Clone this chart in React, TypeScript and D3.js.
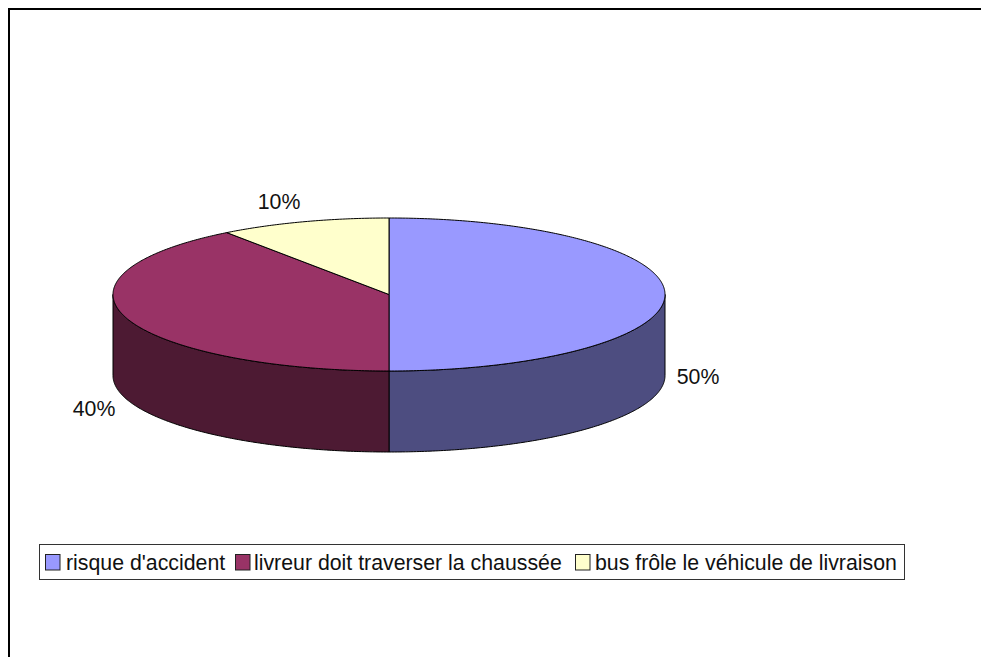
import React from "react";
import * as d3 from "d3";

const categories = ["risque d'accident", "livreur doit traverser la chaussée", "bus frôle le véhicule de livraison"];
const shares = [50, 40, 10];
const topColors = ["#9999FF", "#993366", "#FFFFCC"];
const wallColors = ["#4D4D80", "#4D1A33", "#80804D"];
const labelAnchors = [
  { x: 698, y: 384 },
  { x: 94, y: 416 },
  { x: 279, y: 209 },
];
const legendSwatchX = [45, 235, 575];
const legendTextX = [66, 254, 595];

const W = 981;
const H = 657;
const cx = 389;
const cy = 294.5;
const rx = 276;
const ry = 76.5;
const depth = 81;
const font = "'Liberation Sans', Arial, sans-serif";
const fontSize = 21.3;

const px = d3.scaleLinear().domain([-1, 1]).range([cx - rx, cx + rx]);
const py = d3.scaleLinear().domain([-1, 1]).range([cy - ry, cy + ry]);
const line = d3.line<[number, number]>();

// Points along the rim between two angles, measured clockwise from twelve o'clock.
function rim(a0: number, a1: number, drop = 0): [number, number][] {
  const n = Math.max(2, Math.ceil(Math.abs(a1 - a0) / 0.01));
  return d3.range(n + 1).map((i) => {
    const a = a0 + ((a1 - a0) * i) / n;
    return [px(Math.sin(a)), py(-Math.cos(a)) + drop] as [number, number];
  });
}

function topPath(a0: number, a1: number) {
  return line([[cx, cy], ...rim(a0, a1)])! + "Z";
}

// Only the front half of the cylinder (angles from π/2 to 3π/2) shows a wall.
function wallPath(a0: number, a1: number) {
  const lo = Math.max(a0, Math.PI / 2);
  const hi = Math.min(a1, (3 * Math.PI) / 2);
  if (hi <= lo) return null;
  return line([...rim(lo, hi), ...rim(hi, lo, depth)])! + "Z";
}

export default function App() {
  const arcs = d3.pie<number>().sort(null)(shares);
  const stroke = { stroke: "#000", strokeWidth: 1, strokeLinejoin: "round" as const };
  return (
    <svg width={W} height={H} viewBox={`0 0 ${W} ${H}`} style={{ position: "absolute", left: 0, top: 0, background: "#fff" }}>
      <path d={`M9,${H}V9H${W}`} fill="none" stroke="#000" strokeWidth={2} />
      {arcs.map((a, i) => {
        const d = wallPath(a.startAngle, a.endAngle);
        return d ? <path key={i} d={d} fill={wallColors[i]} {...stroke} /> : null;
      })}
      {arcs.map((a, i) => (
        <path key={i} d={topPath(a.startAngle, a.endAngle)} fill={topColors[i]} {...stroke} />
      ))}
      {shares.map((s, i) => (
        <text key={i} x={labelAnchors[i].x} y={labelAnchors[i].y} textAnchor="middle" fontFamily={font} fontSize={fontSize} fill="#111">
          {s}%
        </text>
      ))}
      <rect x={39.5} y={544.5} width={865} height={35} fill="#fff" stroke="#333" strokeWidth={1} />
      {categories.map((c, i) => (
        <g key={c}>
          <rect x={legendSwatchX[i] + 0.5} y={554.5} width={14.5} height={15.5} fill={topColors[i]} stroke="#222" strokeWidth={1} />
          <text x={legendTextX[i]} y={570} fontFamily={font} fontSize={fontSize} fill="#111">
            {c}
          </text>
        </g>
      ))}
    </svg>
  );
}
